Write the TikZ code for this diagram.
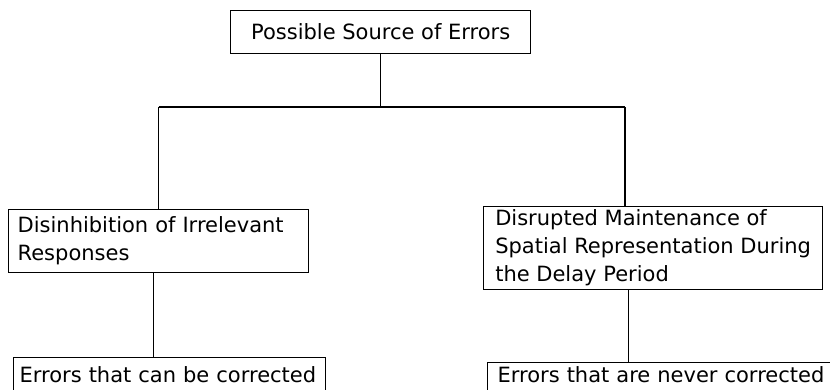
\documentclass[tikz,border=0pt]{standalone}
\usepackage{fontspec}
\setmainfont{DejaVu Sans}
\begin{document}
\begin{tikzpicture}[x=1pt,y=-1pt,
  box/.style={draw,line width=1.3pt,anchor=north west,font=\fontsize{21}{28}\selectfont,inner ysep=0pt,inner xsep=0pt,align=left},
  conn/.style={line width=1.4pt}]
\clip (0,0) rectangle (830,390);
\useasboundingbox (0,0) rectangle (830,390);
\node[box,minimum width=300pt,minimum height=43pt,align=center] (top) at (230,10) {Possible Source of Errors};
\node[box,minimum height=63pt,text width=282pt,inner xsep=9pt] (left) at (8,209) {Disinhibition of Irrelevant\\Responses};
\node[box,minimum width=339pt,minimum height=83pt] (right) at (483,206) {Disrupted Maintenance of\\Spatial Representation During\\the Delay Period};
\node[box,text width=300pt,inner xsep=6pt,inner ysep=9pt] (bl) at (13,357) {Errors that can be corrected\rule[-20pt]{0pt}{20pt}};
\node[box,text width=340pt,inner xsep=10pt,inner ysep=4pt] (br) at (487,362) {Errors that are never corrected\rule[-20pt]{0pt}{20pt}};
\coordinate (j) at (top.south |- 0,107);
\coordinate (lj) at (left.north |- 0,107);
\coordinate (rj) at (625,107);
\draw[conn] (top.south) -- (j);
\draw[conn] (lj) -- (rj);
\draw[conn] (lj) -- (left.north);
\draw[conn] (rj) -- (rj |- right.north);
\draw[conn] ([xshift=-5pt]left.south) -- ([xshift=-5pt]left.south |- bl.north);
\draw[conn] ([xshift=-24.5pt]right.south) -- ([xshift=-24.5pt]right.south |- br.north);
\end{tikzpicture}
\end{document}
